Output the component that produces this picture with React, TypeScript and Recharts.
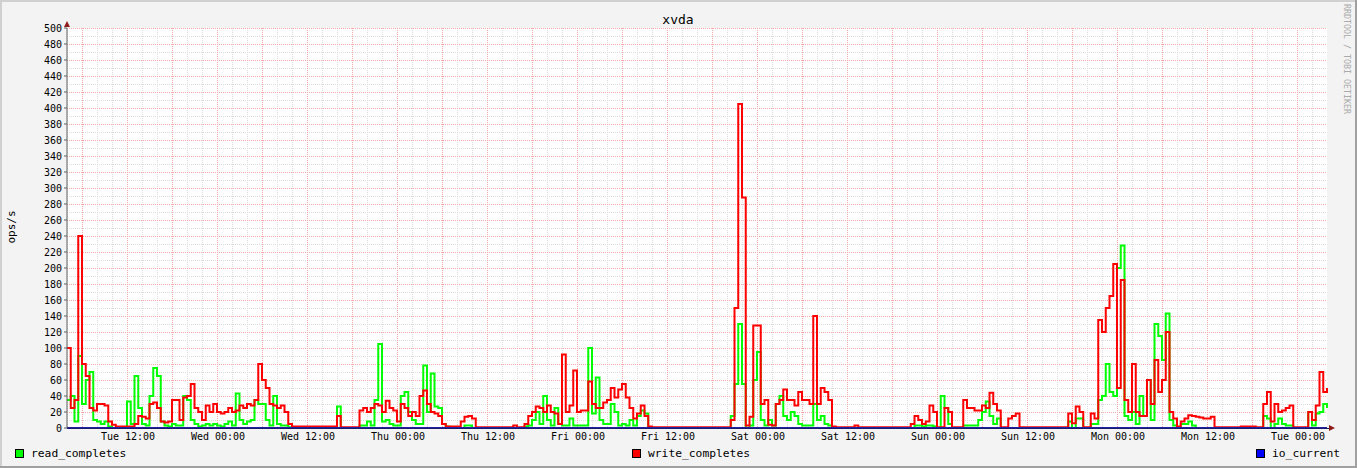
import { ComposedChart, Line, XAxis, YAxis, CartesianGrid } from "recharts";

document.body.style.margin = "0";

// one sample every 30 minutes, first sample at Tue ~03:52
const writeCompletes = [
  100, 25, 35, 240, 80, 65, 25, 22, 30, 30,
  28, 8, 4, 2, 2, 2, 2, 2, 5, 15,
  14, 12, 30, 32, 25, 8, 7, 8, 35, 35,
  10, 38, 40, 55, 25, 20, 10, 28, 20, 30,
  20, 18, 20, 25, 20, 22, 28, 25, 30, 28,
  35, 80, 60, 50, 30, 28, 25, 28, 20, 5,
  2, 2, 2, 2, 2, 2, 2, 2, 2, 2,
  2, 2, 15, 1, 1, 1, 1, 1, 22, 25,
  20, 25, 30, 28, 20, 34, 25, 22, 8, 30,
  25, 15, 20, 15, 40, 47, 30, 20, 18, 15,
  5, 2, 2, 2, 2, 8, 14, 15, 12, 1,
  1, 1, 1, 1, 1, 1, 1, 1, 1, 3,
  1, 1, 5, 15, 20, 27, 25, 20, 28, 20,
  18, 5, 92, 20, 28, 72, 20, 22, 22, 58,
  30, 25, 25, 32, 35, 50, 38, 48, 55, 38,
  25, 12, 18, 28, 15, 2, 1, 1, 1, 1,
  1, 1, 1, 1, 1, 1, 1, 1, 1, 1,
  1, 1, 1, 1, 1, 1, 1, 10, 150, 405,
  288, 3, 14, 128, 128, 30, 35, 4, 3, 30,
  35, 48, 35, 35, 28, 45, 35, 35, 30, 140,
  30, 50, 45, 35, 2, 1, 1, 1, 1, 1,
  3, 1, 1, 1, 1, 1, 1, 1, 1, 1,
  1, 1, 1, 1, 1, 5, 15, 10, 5, 8,
  28, 20, 1, 1, 25, 20, 1, 1, 1, 35,
  25, 25, 22, 22, 28, 25, 44, 30, 22, 1,
  1, 12, 15, 18, 1, 1, 1, 1, 1, 1,
  1, 1, 1, 1, 1, 1, 1, 18, 6, 27,
  20, 1, 1, 18, 12, 135, 120, 150, 165, 205,
  50, 185, 35, 20, 80, 20, 15, 15, 60, 30,
  85, 45, 60, 120, 20, 12, 2, 8, 12, 16,
  15, 14, 13, 12, 12, 14, 1, 1, 1, 1,
  1, 1, 1, 2, 2, 2, 2, 1, 1, 30,
  45, 8, 30, 20, 22, 25, 28, 1, 1, 1,
  1, 20, 10, 28, 70, 45, 50,
];

const readCompletes = [
  35, 40, 8, 90, 30, 60, 70, 10, 8, 5,
  8, 2, 0, 0, 0, 0, 33, 5, 65, 25,
  5, 3, 40, 75, 65, 8, 3, 2, 5, 3,
  3, 40, 35, 10, 5, 2, 3, 5, 3, 5,
  3, 2, 5, 8, 3, 43, 10, 5, 8, 10,
  35, 30, 30, 10, 3, 40, 5, 3, 3, 1,
  0, 0, 0, 0, 0, 0, 0, 0, 0, 0,
  0, 0, 27, 0, 0, 0, 0, 0, 3, 3,
  8, 3, 35, 105, 8, 10, 5, 3, 3, 40,
  45, 20, 10, 5, 5, 78, 20, 68, 27, 25,
  5, 2, 0, 0, 0, 0, 3, 3, 0, 0,
  0, 0, 0, 0, 0, 0, 0, 0, 0, 0,
  0, 0, 2, 3, 10, 20, 5, 40, 10, 3,
  25, 5, 3, 3, 12, 3, 3, 3, 3, 100,
  18, 63, 10, 5, 5, 30, 20, 3, 5, 3,
  10, 3, 15, 22, 18, 0, 0, 0, 0, 0,
  0, 0, 0, 0, 0, 0, 0, 0, 0, 0,
  0, 0, 0, 0, 0, 0, 0, 15, 55, 130,
  55, 0, 3, 60, 95, 10, 3, 10, 3, 30,
  40, 15, 10, 20, 15, 5, 3, 3, 3, 30,
  10, 15, 5, 3, 0, 0, 0, 0, 0, 0,
  0, 0, 0, 0, 0, 0, 0, 0, 0, 0,
  0, 0, 0, 0, 0, 0, 3, 3, 2, 3,
  3, 2, 0, 40, 25, 5, 0, 0, 0, 3,
  3, 3, 3, 10, 20, 33, 15, 5, 12, 0,
  0, 0, 0, 0, 0, 0, 0, 0, 0, 0,
  0, 0, 0, 0, 0, 0, 0, 8, 0, 12,
  12, 0, 0, 5, 5, 35, 40, 80, 45, 40,
  200, 228, 15, 10, 20, 5, 40, 15, 60, 10,
  130, 115, 85, 143, 10, 3, 0, 5, 5, 8,
  3, 0, 0, 0, 0, 0, 0, 0, 0, 0,
  0, 0, 0, 0, 0, 0, 0, 0, 0, 15,
  12, 0, 5, 12, 5, 3, 3, 0, 0, 0,
  0, 20, 3, 18, 20, 30, 25,
];

const ioCurrent = [
  0, 0, 0, 0, 0, 0, 0, 0, 0, 0, 0, 0, 0, 0, 0, 0, 0, 0, 0, 0,
  0, 0, 0, 0, 0, 0, 0, 0, 0, 0, 0, 0, 0, 0, 0, 0, 0, 0, 0, 0,
  0, 0, 0, 0, 0, 0, 0, 0, 0, 0, 0, 0, 0, 0, 0, 0, 0, 0, 0, 0,
  0, 0, 0, 0, 0, 0, 0, 0, 0, 0, 0, 0, 0, 0, 0, 0, 0, 0, 0, 0,
  0, 0, 0, 0, 0, 0, 0, 0, 0, 0, 0, 0, 0, 0, 0, 0, 0, 0, 0, 0,
  0, 0, 0, 0, 0, 0, 0, 0, 0, 0, 0, 0, 0, 0, 0, 0, 0, 0, 0, 0,
  0, 0, 0, 0, 0, 0, 0, 0, 0, 0, 0, 0, 0, 0, 0, 0, 0, 0, 0, 0,
  0, 0, 0, 0, 0, 0, 0, 0, 0, 0, 0, 0, 0, 0, 0, 0, 0, 0, 0, 0,
  0, 0, 0, 0, 0, 0, 0, 0, 0, 0, 0, 0, 0, 0, 0, 0, 0, 0, 0, 0,
  0, 0, 0, 0, 0, 0, 0, 0, 0, 0, 0, 0, 0, 0, 0, 0, 0, 0, 0, 0,
  0, 0, 0, 0, 0, 0, 0, 0, 0, 0, 0, 0, 0, 0, 0, 0, 0, 0, 0, 0,
  0, 0, 0, 0, 0, 0, 0, 0, 0, 0, 0, 0, 0, 0, 0, 0, 0, 0, 0, 0,
  0, 0, 0, 0, 0, 0, 0, 0, 0, 0, 0, 0, 0, 0, 0, 0, 0, 0, 0, 0,
  0, 0, 0, 0, 0, 0, 0, 0, 0, 0, 0, 0, 0, 0, 0, 0, 0, 0, 0, 0,
  0, 0, 0, 0, 0, 0, 0, 0, 0, 0, 0, 0, 0, 0, 0, 0, 0, 0, 0, 0,
  0, 0, 0, 0, 0, 0, 0, 0, 0, 0, 0, 0, 0, 0, 0, 0, 0, 0, 0, 0,
  0, 0, 0, 0, 0, 0, 0, 0, 0, 0, 0, 0, 0, 0, 0, 0, 0,
];

const xTickHours = [8.13, 20.13, 32.13, 44.13, 56.13, 68.13, 80.13, 92.13, 104.13, 116.13, 128.13, 140.13, 152.13, 164.13];
const xTickLabels = [
  "Tue 12:00", "Wed 00:00", "Wed 12:00", "Thu 00:00", "Thu 12:00", "Fri 00:00", "Fri 12:00",
  "Sat 00:00", "Sat 12:00", "Sun 00:00", "Sun 12:00", "Mon 00:00", "Mon 12:00", "Tue 00:00",
];
const yTicks = [0, 20, 40, 60, 80, 100, 120, 140, 160, 180, 200, 220, 240, 260, 280, 300, 320, 340, 360, 380, 400, 420, 440, 460, 480, 500];

const HOURS_PER_SAMPLE = 0.5;
const rows = writeCompletes.map((w, i) => ({
  t: i * HOURS_PER_SAMPLE,
  write: w,
  read: readCompletes[i],
  io: ioCurrent[i],
}));

// grid: minor every 2h / 10 ops, major every 6h / 20 ops
const minorX: number[] = [];
for (let h = 0.13; h < 168; h += 2) minorX.push(h);
const majorX: number[] = [];
for (let h = 2.13; h < 168; h += 6) majorX.push(h);
const minorY: number[] = [];
for (let v = 10; v < 500; v += 20) minorY.push(v);
const majorY = yTicks.filter((v) => v > 0);

const MONO = "DejaVu Sans Mono";

function LegendItem({ x, color, label }: { x: number; color: string; label: string }) {
  return (
    <g>
      <rect x={x + 0.5} y={449.5} width={8} height={8} fill={color} stroke="#000" />
      <text x={x + 16} y={457} fontFamily={MONO} fontSize={11.3} fill="#000">
        {label}
      </text>
    </g>
  );
}

export default function App() {
  return (
    <div style={{ position: "relative", width: 1357, height: 468, background: "#f3f3f3" }}>
      <style>{".recharts-cartesian-grid line{shape-rendering:crispEdges}"}</style>
      <ComposedChart width={1357} height={468} data={rows} margin={{ top: 28, right: 30, bottom: 20, left: 0 }}>
        <CartesianGrid
          fill="#ffffff"
          stroke="#dcdcdc"
          strokeDasharray="1 1"
          horizontalValues={minorY}
          verticalValues={minorX}
        />
        <CartesianGrid
          stroke="#f5a8a8"
          strokeDasharray="1 1"
          horizontalValues={majorY}
          verticalValues={majorX}
        />
        <XAxis
          dataKey="t"
          type="number"
          domain={[0, 168]}
          ticks={xTickHours}
          interval={0}
          tickFormatter={(v: number) => xTickLabels[xTickHours.indexOf(v)] ?? ""}
          tick={{ fontSize: 10, fontFamily: MONO, fill: "#000" }}
          tickLine={false}
          tickSize={3}
          tickMargin={2}
          axisLine={{ stroke: "#404040" }}
          height={20}
        />
        <YAxis
          domain={[0, 500]}
          ticks={yTicks}
          interval={0}
          width={67}
          tick={{ fontSize: 10, fontFamily: MONO, fill: "#000" }}
          tickLine={{ stroke: "#606060" }}
          tickSize={3}
          tickMargin={2}
          axisLine={{ stroke: "#606060" }}
        />
        <Line type="stepAfter" dataKey="read" stroke="#00ff00" strokeWidth={2} dot={false} activeDot={false} isAnimationActive={false} />
        <Line type="stepAfter" dataKey="write" stroke="#ff0000" strokeWidth={2} dot={false} activeDot={false} isAnimationActive={false} />
        <Line type="stepAfter" dataKey="io" stroke="#0000ff" strokeWidth={2} dot={false} activeDot={false} isAnimationActive={false} />
      </ComposedChart>
      <svg width={1357} height={468} style={{ position: "absolute", left: 0, top: 0, pointerEvents: "none" }}>
        <text x={678} y={24} textAnchor="middle" fontFamily={MONO} fontSize={13} fill="#000">
          xvda
        </text>
        <text transform="translate(14.5,227) rotate(-90)" textAnchor="middle" fontFamily={MONO} fontSize={11} fill="#000">
          ops/s
        </text>
        <text transform="translate(1344,4) rotate(90)" fontFamily={MONO} fontSize={8.3} fill="#aaaaaa">
          RRDTOOL / TOBI OETIKER
        </text>
        <line x1={67} y1={428.5} x2={1329} y2={428.5} stroke="#1a1a70" strokeWidth={1} />
        <polygon points="64,27 70,27 67,21" fill="#8e1a1a" />
        <polygon points="1329,425 1329,431 1335,428" fill="#8e1a1a" />
        <LegendItem x={15} color="#00ff00" label="read_completes" />
        <LegendItem x={632} color="#ff0000" label="write_completes" />
        <LegendItem x={1256} color="#0000ff" label="io_current" />
        <rect x={0} y={0} width={1357} height={2} fill="#d0d0d0" />
        <rect x={0} y={0} width={2} height={468} fill="#d0d0d0" />
        <rect x={0} y={466} width={1357} height={2} fill="#a0a0a0" />
        <rect x={1355} y={0} width={2} height={468} fill="#a0a0a0" />
      </svg>
    </div>
  );
}
